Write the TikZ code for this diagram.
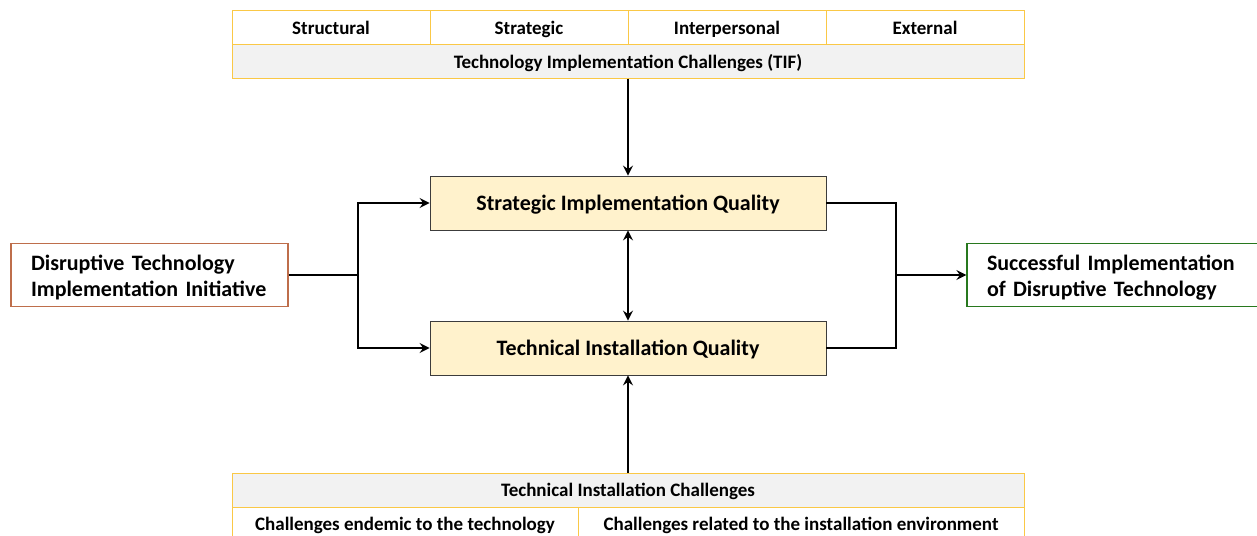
\documentclass[tikz,border=0pt]{standalone}
\usepackage{fontspec}
\setmainfont{Carlito}
\usetikzlibrary{arrows.meta}
\definecolor{goldline}{RGB}{250,200,70}
\definecolor{cellgray}{RGB}{242,242,242}
\definecolor{qualfill}{RGB}{255,242,204}
\definecolor{qualline}{RGB}{60,60,60}
\definecolor{brownline}{RGB}{190,110,75}
\definecolor{greenline}{RGB}{40,120,30}
% two left-aligned lines, set a little below the box centre
\newcommand{\twolines}[2]{\raisebox{-3pt}[\height][\depth]{\begin{tabular}{@{}l@{}}#1\\#2\end{tabular}}}
\tikzset{
  tip/.tip={Stealth[length=10pt,width=10pt,inset=3.5pt]},
  cell/.style={draw=goldline, line width=1pt, inner sep=0pt, text depth=0pt, font=\bfseries\fontsize{19}{23}\selectfont},
  qual/.style={draw=qualline, fill=qualfill, line width=0.8pt, minimum width=396pt, minimum height=54pt, inner sep=0pt, text depth=0pt, font=\bfseries\fontsize{22}{26}\selectfont},
  endbox/.style={line width=1.2pt, minimum height=63pt, inner sep=0pt, font=\bfseries\fontsize{22}{26}\selectfont},
  link/.style={line width=1.8pt, -tip},
  twoway/.style={line width=1.8pt, tip-tip},
  wire/.style={line width=1.8pt}
}
\begin{document}
\begin{tikzpicture}[x=1pt,y=-1pt]
\useasboundingbox (0,0) rectangle (1257,535);
\clip (0,0) rectangle (1257,535);
% top table: challenge categories
\node[cell, minimum width=198pt, minimum height=34pt] (cstr) at (331,28) {Structural};
\node[cell, minimum width=198pt, minimum height=34pt] (cstg) at (529,28) {Strategic};
\node[cell, minimum width=198pt, minimum height=34pt] (cint) at (727,28) {Interpersonal};
\node[cell, minimum width=198pt, minimum height=34pt] (cext) at (925,28) {External};
\node[cell, fill=cellgray, minimum width=792pt, minimum height=33pt] (tif) at (628,61.5) {Technology Implementation Challenges (TIF)};
% bottom table
\node[cell, fill=cellgray, minimum width=792pt, minimum height=34pt] (tic) at (628,490) {Technical Installation Challenges};
\node[cell, minimum width=346pt, minimum height=34pt] (cend) at (405,524) {Challenges endemic to the technology};
\node[cell, minimum width=446pt, minimum height=34pt] (cenv) at (801,524) {Challenges related to the installation environment};
% quality boxes
\node[qual] (siq) at (628,203) {Strategic Implementation Quality};
\node[qual] (tiq) at (628,348) {Technical Installation Quality};
% input and outcome
\node[endbox, draw=brownline, minimum width=277pt, text width=237pt] (dti) at (149.5,275) {\twolines{Disruptive Technology}{Implementation Initiative}};
\node[endbox, draw=greenline, minimum width=292pt, text width=252pt] (sid) at (1113,275) {\twolines{Successful Implementation}{of Disruptive Technology}};
% connectors
\coordinate (lsplit) at (358,275);
\coordinate (rjoin) at (896,275);
\draw[wire] (dti.east) -- (lsplit);
\draw[link] (lsplit) |- (siq.west);
\draw[link] (lsplit) |- (tiq.west);
\draw[wire] (siq.east) -| (rjoin);
\draw[wire] (tiq.east) -| (rjoin);
\draw[link] (rjoin) -- (sid.west);
\draw[link] (tif.south -| siq.north) -- (siq.north);
\draw[twoway] (siq.south) -- (tiq.north);
\draw[link] (tic.north -| tiq.south) -- (tiq.south);
\end{tikzpicture}
\end{document}
